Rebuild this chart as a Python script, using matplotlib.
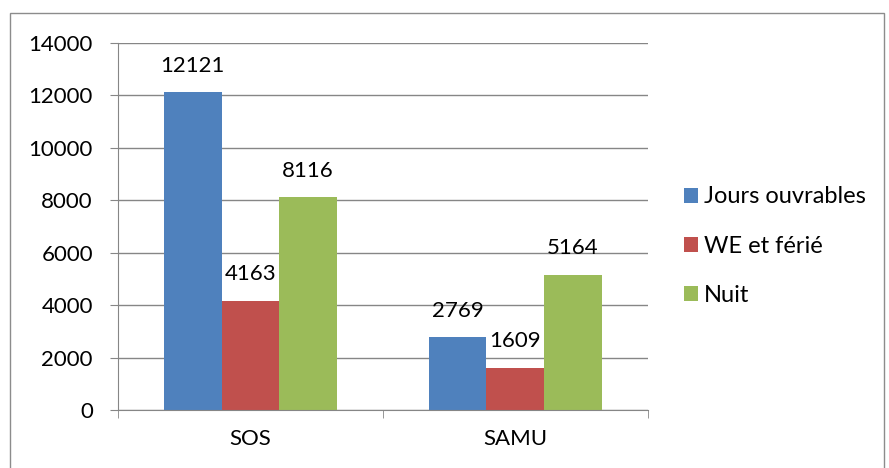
import numpy as np
import matplotlib.pyplot as plt
from matplotlib.patches import Rectangle

categories = ['SOS', 'SAMU']
series = ['Jours ouvrables', 'WE et férié', 'Nuit']
values = [[12121, 2769], [4163, 1609], [8116, 5164]]
colors = ['#4F81BD', '#C0504D', '#9BBB59']
yticks = [0, 2000, 4000, 6000, 8000, 10000, 12000, 14000]

plt.rcParams['font.family'] = ['Lato', 'DejaVu Sans']

fig = plt.figure(figsize=(8.89, 4.68), dpi=100)
ax = fig.add_axes([0.1327, 0.1239, 0.596, 0.7842])

fig.patches.append(Rectangle((10 / 889, -0.05), 874 / 889, 1 - 13 / 468 + 0.05,
                             transform=fig.transFigure, fill=False,
                             edgecolor='#8c8c8c', linewidth=1))

x = np.arange(len(categories))
w = 0.218
for i, (name, vals) in enumerate(zip(series, values)):
    bars = ax.bar(x + (i - 1) * w, vals, w, color=colors[i], label=name, zorder=2)
    ax.bar_label(bars, padding=12, fontsize=16)

ax.set_xlim(-0.5, 1.5)
ax.set_ylim(0, 14000)
ax.set_yticks(yticks)
ax.set_yticklabels([str(t) for t in yticks], fontsize=16)
ax.yaxis.grid(True, color='#868686', linewidth=1)
ax.set_axisbelow(True)

ax.set_xticks(x)
ax.set_xticklabels(categories, fontsize=16)
ax.set_xticks([-0.5, 0.5, 1.5], minor=True)
ax.tick_params(axis='x', which='major', length=0, pad=14)
ax.tick_params(axis='x', which='minor', length=6, color='#868686', direction='out')
ax.tick_params(axis='y', length=6, color='#868686', pad=12)

for s in ['top', 'right']:
    ax.spines[s].set_visible(False)
for s in ['left', 'bottom']:
    ax.spines[s].set_color('#868686')

ax.legend(loc='center left', bbox_to_anchor=(1.051, 0.446), frameon=False,
          fontsize=17, handlelength=0.6, handleheight=0.6,
          handletextpad=0.25, labelspacing=1.2, borderaxespad=0)

fig.savefig('out.png', dpi=100)
